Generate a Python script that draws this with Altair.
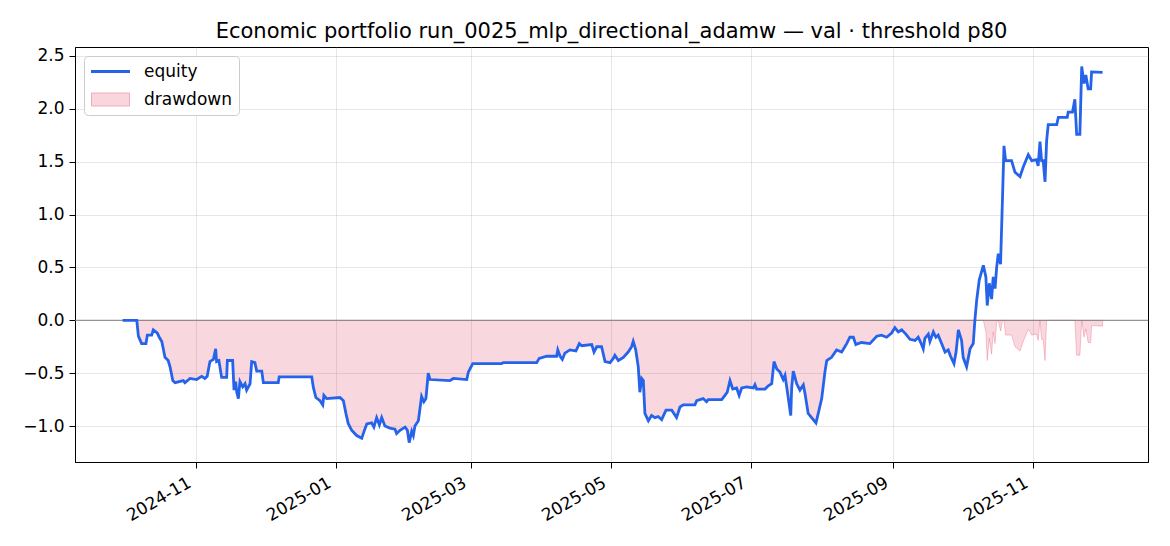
import altair as alt
import pandas as pd

TITLE = "Economic portfolio run_0025_mlp_directional_adamw \u2014 val \u00b7 threshold p80"
START = "2024-09-30"

# days since START (fractional)
days = [
    0.0, 6.2, 6.9, 8.3, 10.2, 10.8, 12.7, 13.4, 15.1, 16.0,
    17.1, 18.5, 19.9, 20.7, 21.9, 22.9, 26.5, 27.2, 29.4, 32.3,
    34.5, 35.9, 36.9, 38.1, 39.6, 40.6, 41.0, 42.0, 43.2, 45.4,
    45.7, 48.0, 48.6, 49.3, 49.8, 50.5, 51.2, 52.4, 53.4, 54.1,
    55.6, 56.3, 57.7, 58.5, 60.7, 61.4, 67.9, 68.3, 82.5, 83.2,
    84.3, 86.1, 87.3, 87.8, 89.0, 94.8, 96.3, 97.4, 98.4, 99.9,
    102.1, 104.3, 105.3, 106.5, 108.6, 109.6, 110.8, 112.0, 113.0, 114.4,
    116.6, 118.8, 119.5, 121.0, 123.2, 124.2, 125.0, 126.1, 126.8, 127.5,
    129.0, 130.4, 131.4, 132.3, 133.3, 134.1, 142.8, 144.2, 150.1, 150.8,
    152.7, 165.3, 166.0, 180.6, 181.7, 185.0, 189.3, 189.8, 190.8, 191.8,
    192.9, 195.1, 197.7, 199.2, 200.2, 204.6, 205.6, 206.8, 208.9, 210.4,
    212.6, 214.0, 214.7, 216.2, 218.4, 220.5, 222.0, 222.7, 223.8, 224.9,
    225.6, 226.4, 227.1, 227.8, 229.3, 230.7, 232.2, 233.6, 235.1, 237.0,
    239.5, 241.6, 243.1, 244.5, 249.6, 250.4, 253.2, 254.7, 255.4, 261.3,
    262.7, 263.7, 264.9, 266.1, 267.8, 268.9, 270.0, 272.2, 275.1, 275.8,
    276.5, 280.2, 281.6, 283.1, 284.1, 285.3, 286.7, 288.1, 288.9, 290.3,
    291.4, 291.8, 292.5, 294.0, 295.4, 296.9, 297.6, 299.0, 300.5, 302.4,
    303.4, 304.9, 306.3, 307.1, 309.2, 311.4, 313.6, 315.0, 315.8, 317.2,
    318.7, 319.8, 320.8, 322.3, 325.9, 328.9, 331.0, 333.2, 335.4, 336.8,
    338.3, 339.8, 341.6, 343.4, 345.6, 347.0, 348.1, 349.2, 349.9, 351.4,
    352.1, 353.6, 354.7, 355.7, 357.2, 358.7, 360.1, 361.1, 362.6, 363.5,
    364.5, 365.9, 366.6, 368.1, 369.6, 371.0, 371.7, 372.5, 373.6, 375.4,
    376.5, 377.1, 378.0, 379.0, 379.7, 380.5, 381.2, 381.9, 382.9, 383.8,
    384.4, 385.1, 387.7, 389.2, 391.4, 392.8, 395.0, 396.5, 398.6, 399.3,
    400.1, 400.8, 401.5, 402.3, 403.0, 403.7, 407.4, 408.1, 412.0, 412.4,
    414.3, 415.3, 416.1, 417.5, 418.3, 419.3, 420.1, 421.1, 422.2, 422.6, 427.4,
]

equity = [
    0.0, 0.0, -0.15, -0.22, -0.22, -0.14, -0.14, -0.09, -0.12, -0.16,
    -0.20, -0.35, -0.38, -0.44, -0.57, -0.59, -0.57, -0.59, -0.55, -0.56,
    -0.53, -0.55, -0.53, -0.39, -0.37, -0.27, -0.39, -0.38, -0.54, -0.54,
    -0.38, -0.38, -0.66, -0.58, -0.68, -0.74, -0.58, -0.63, -0.60, -0.66,
    -0.60, -0.39, -0.40, -0.48, -0.48, -0.59, -0.59, -0.535, -0.535, -0.635,
    -0.73, -0.76, -0.80, -0.71, -0.74, -0.73, -0.76, -0.88, -0.975, -1.04,
    -1.09, -1.116, -1.05, -0.98, -0.97, -1.01, -0.92, -0.99, -0.92, -1.00,
    -1.02, -1.03, -1.07, -1.04, -1.01, -1.04, -1.157, -1.05, -1.09, -1.00,
    -0.95, -0.72, -0.77, -0.74, -0.50, -0.56, -0.57, -0.55, -0.56, -0.49,
    -0.41, -0.41, -0.40, -0.40, -0.36, -0.34, -0.34, -0.28, -0.34, -0.37,
    -0.31, -0.28, -0.29, -0.22, -0.24, -0.23, -0.30, -0.25, -0.25, -0.39,
    -0.40, -0.36, -0.33, -0.38, -0.35, -0.30, -0.25, -0.20, -0.28, -0.44,
    -0.68, -0.55, -0.57, -0.88, -0.95, -0.90, -0.92, -0.91, -0.94, -0.85,
    -0.85, -0.92, -0.82, -0.80, -0.80, -0.76, -0.74, -0.77, -0.75, -0.75,
    -0.71, -0.68, -0.57, -0.65, -0.64, -0.71, -0.64, -0.63, -0.64, -0.61,
    -0.65, -0.65, -0.62, -0.60, -0.39, -0.46, -0.49, -0.56, -0.52, -0.73,
    -0.90, -0.64, -0.48, -0.60, -0.66, -0.61, -0.69, -0.88, -0.92, -0.97,
    -0.88, -0.74, -0.49, -0.38, -0.35, -0.28, -0.30, -0.25, -0.22, -0.16,
    -0.16, -0.23, -0.22, -0.21, -0.22, -0.15, -0.14, -0.16, -0.12, -0.07,
    -0.11, -0.09, -0.13, -0.18, -0.19, -0.16, -0.21, -0.27, -0.17, -0.13,
    -0.20, -0.11, -0.16, -0.14, -0.22, -0.30, -0.28, -0.34, -0.41, -0.30,
    -0.09, -0.19, -0.35, -0.44, -0.27, -0.22, 0.0, 0.19, 0.38, 0.52,
    0.41, 0.14, 0.35, 0.20, 0.41, 0.30, 0.50, 0.63, 0.53, 1.195,
    1.65, 1.51, 1.51, 1.40, 1.36, 1.45, 1.566, 1.51, 1.52, 1.46,
    1.69, 1.51, 1.51, 1.31, 1.70, 1.85, 1.85, 1.92, 1.92, 1.97,
    1.97, 2.09, 1.76, 1.76, 2.40, 2.24, 2.32, 2.19, 2.19, 2.35, 2.345,
]

y_ticks = [-1.0, -0.5, 0.0, 0.5, 1.0, 1.5, 2.0, 2.5]
x_tick_months = [(2024, 11), (2025, 1), (2025, 3), (2025, 5), (2025, 7), (2025, 9), (2025, 11)]
series_names = ["equity", "drawdown"]

BLUE = "#2563eb"
CRIMSON = "#dc143c"

dates = pd.Timestamp(START) + pd.to_timedelta(days, unit="D")
eq = pd.Series(equity, dtype=float)
dd = eq - eq.cummax().clip(lower=0.0)
df = pd.DataFrame({
    "date": dates.strftime("%Y-%m-%dT%H:%M:%SZ"),
    "equity": eq,
    "drawdown": dd,
})

x_enc = alt.X(
    "date:T",
    scale=alt.Scale(type="utc", domain=[
        alt.DateTime(year=2024, month=9, date=9, hours=6, utc=True),
        alt.DateTime(year=2025, month=12, date=21, hours=5, utc=True),
    ], nice=False),
    axis=alt.Axis(
        title=None,
        values=[alt.DateTime(year=y, month=m, date=1, utc=True) for y, m in x_tick_months],
        labelExpr="utcFormat(datum.value, '%Y-%m')",
        labelAngle=330, labelAlign="right", labelBaseline="bottom",
        labelPadding=21, labelOffset=-2, tickSize=6, grid=True,
    ),
)

y_scale = alt.Scale(domain=[-1.34, 2.585], nice=False, zero=False)
y_axis = alt.Axis(title=None, values=y_ticks, format=".1f", tickSize=6,
                  labelPadding=5, grid=True, minExtent=45, maxExtent=45)

area = alt.Chart(df).mark_area(
    color=CRIMSON, fillOpacity=0.17, stroke=CRIMSON, strokeOpacity=0.22, strokeWidth=1,
).encode(
    x=x_enc,
    y=alt.Y("drawdown:Q", scale=y_scale, axis=y_axis),
    y2=alt.datum(0),
)

zero = alt.Chart(pd.DataFrame({"v": [0.0]})).mark_rule(
    color="#808080", strokeWidth=1.2, opacity=0.8
).encode(y=alt.Y("v:Q", scale=y_scale, axis=y_axis))

line = alt.Chart(df).mark_line(strokeWidth=2.8, color=BLUE).encode(
    x=x_enc,
    y=alt.Y("equity:Q", scale=y_scale, axis=y_axis),
)

# legend-only layer (no marks drawn: data filtered out)
legend = alt.Legend(
    title=None, orient="top-left", offset=9, padding=7,
    fillColor="white", strokeColor="#cccccc", cornerRadius=4,
    labelFont="DejaVu Sans", labelFontSize=17, labelColor="black",
    symbolSize=100, symbolOffset=11, rowPadding=10, labelOffset=25,
    symbolOpacity=1,
)
key = alt.Chart(pd.DataFrame({"series": series_names})).transform_filter("false").mark_point(
    opacity=1
).encode(
    shape=alt.Shape("series:N", scale=alt.Scale(domain=series_names,
                    range=["M-3.9,0H3.9", "M-3.8,-1.3H3.8V1.3H-3.8Z"]), legend=legend),
    fill=alt.Fill("series:N", scale=alt.Scale(domain=series_names,
                  range=["transparent", "#f9d5dc"]), legend=legend),
    stroke=alt.Stroke("series:N", scale=alt.Scale(domain=series_names,
                      range=[BLUE, "#f2aabb"]), legend=legend),
    strokeWidth=alt.StrokeWidth("series:N", scale=alt.Scale(domain=series_names,
                                range=[2.8, 1.0]), legend=legend),
)

chart = alt.layer(area, zero, line, key).properties(
    width=1073, height=415,
    autosize=alt.AutoSizeParams(type="none"),
    padding={"left": 67, "top": 39, "right": 14, "bottom": 76},
    title=alt.Title(TITLE, anchor="middle", baseline="alphabetic", offset=-12),
).configure_axis(
    labelFont="DejaVu Sans", labelFontSize=17, labelColor="black",
    tickColor="black", domainColor="black", domainWidth=1, tickWidth=1,
    gridColor="#b0b0b0", gridOpacity=0.3, gridWidth=1,
).configure_view(stroke="black", strokeWidth=1).configure_title(
    font="DejaVu Sans", fontSize=21, fontWeight="normal", color="black",
)

chart.save("out.html", embed_options={"renderer": "svg", "actions": False})
